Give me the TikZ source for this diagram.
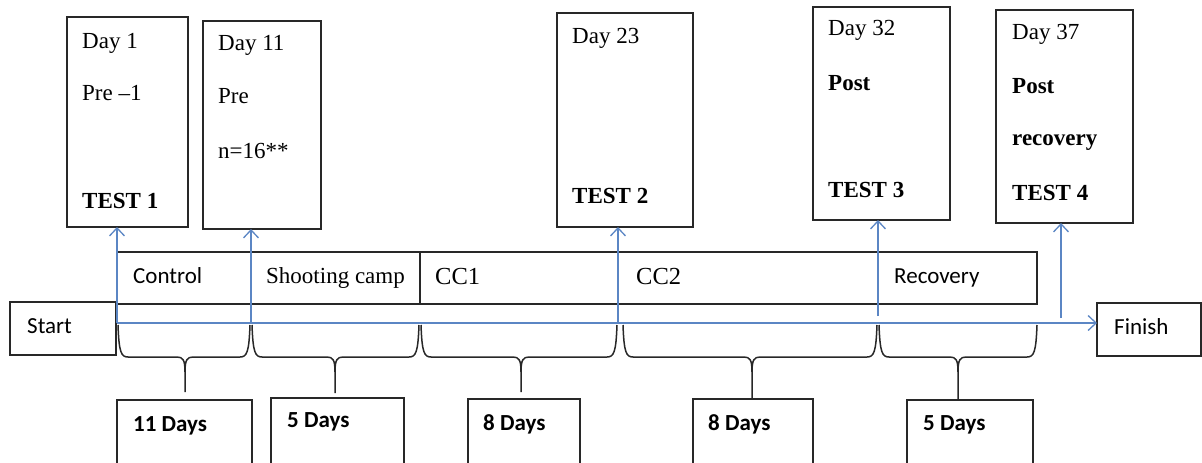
\documentclass[tikz,border=0pt]{standalone}
\usepackage{fontspec}
\setmainfont{Liberation Serif}
\newfontfamily\calib{Carlito}
\usetikzlibrary{arrows.meta}
\definecolor{lineblue}{RGB}{91,134,196}
\definecolor{boxgray}{RGB}{40,40,40}
\newcommand\brc[4]{%
  \draw[brc] (#1,325) .. controls (#1+1,352) and (#1+3,357) .. (#1+10,357) -- (#3-8,357)
    .. controls (#3-2,357) and (#3,360) .. (#3,372) -- (#3,#4);
  \draw[brc] (#2,325) .. controls (#2-1,352) and (#2-3,357) .. (#2-10,357) -- (#3+8,357)
    .. controls (#3+2,357) and (#3,360) .. (#3,372);}
\begin{document}
\begin{tikzpicture}[x=1pt,y=-1pt,
  bx/.style={draw=boxgray,line width=1.6pt,inner sep=0pt,outer sep=0pt,anchor=north west},
  tx/.style={anchor=base west,inner sep=0pt,font=\fontsize{23}{27}\selectfont},
  tb/.style={tx,font=\fontsize{23}{27}\selectfont\bfseries},
  ph/.style={anchor=base west,inner sep=0pt,font=\fontsize{24.5}{29}\selectfont},
  sf/.style={anchor=base west,inner sep=0pt,font=\calib\fontsize{23}{27}\selectfont},
  sfb/.style={anchor=base west,inner sep=0pt,font=\calib\fontsize{23}{27}\selectfont\bfseries},
  arr/.style={draw=lineblue,line width=1.5pt,-{Straight Barb[length=8pt,width=15pt,line width=1.3pt]}},
  brc/.style={draw=boxgray,line width=1.5pt}]
\useasboundingbox (0,0) rectangle (1202,463);
\clip (0,0) rectangle (1202,463);
% top boxes
\node[bx,minimum width=121pt,minimum height=210pt] (b1) at (67,17) {};
\node[bx,minimum width=118pt,minimum height=208pt] (b2) at (203,21) {};
\node[bx,minimum width=136pt,minimum height=214pt] (b3) at (557,13) {};
\node[bx,minimum width=137pt,minimum height=213pt] (b4) at (813,7) {};
\node[bx,minimum width=137pt,minimum height=213pt] (b5) at (996,10) {};
\node[tx] (t11) at (82,48) {Day 1};
\node[tx] (t12) at (82,100) {Pre \textendash1};
\node[tb] (t13) at (82,208) {TEST 1};
\node[tx] (t21) at (218,50) {Day 11};
\node[tx] (t22) at (218,103) {Pre};
\node[tx] (t23) at (218,158) {n=16**};
\node[tx] (t31) at (572,43) {Day 23};
\node[tb] (t32) at (572,203) {TEST 2};
\node[tx] (t41) at (828,35) {Day 32};
\node[tb] (t42) at (828,90) {Post};
\node[tb] (t43) at (828,197) {TEST 3};
\node[tx] (t51) at (1012,39) {Day 37};
\node[tb] (t52) at (1012,93) {Post};
\node[tb] (t53) at (1012,145) {recovery};
\node[tb] (t54) at (1012,200) {TEST 4};
% phase boxes
\node[bx,minimum width=134pt,minimum height=52pt] (p1) at (117,252) {};
\node[bx,minimum width=169pt,minimum height=52pt] (p2) at (251,252) {};
\node[bx,minimum width=198pt,minimum height=52pt] (p3) at (420,252) {};
\node[bx,minimum width=260pt,minimum height=52pt] (p4) at (618,252) {};
\node[bx,minimum width=159pt,minimum height=52pt] (p5) at (878,252) {};
\node[sf] (l1) at (133,283) {Control};
\node[ph,font=\fontsize{23}{27}\selectfont] (l2) at (266,283) {Shooting camp};
\node[ph] (l3) at (435,284) {CC1};
\node[ph] (l4) at (636,284) {CC2};
\node[sf] (l5) at (894,283) {Recovery};
% start / finish
\node[bx,minimum width=106pt,minimum height=53pt] (start) at (10,302) {};
\node[bx,minimum width=104pt,minimum height=53pt] (fin) at (1097,303) {};
\node[sf] (ls) at (27,333) {Start};
\node[sf] (lf) at (1114,334) {Finish};
% timeline and arrows
\coordinate (tl0) at (117,323);
\coordinate (tl1) at (251,323);
\coordinate (tl2) at (618,323);
\coordinate (tl3) at (878,316);
\coordinate (tl4) at (1061,318);
\draw[arr] (tl0) -- (tl0 -| fin.west);
\draw[arr] (tl0) -- (tl0 |- b1.south);
\draw[arr] (tl1) -- (tl1 |- b2.south);
\draw[arr] (tl2) -- (tl2 |- b3.south);
\draw[arr] (tl3) -- (tl3 |- b4.south);
\draw[arr] (tl4) -- (tl4 |- b5.south);
% braces
\brc{118}{250}{185}{392}
\brc{252}{419}{335}{393}
\brc{421}{617}{521}{392}
\brc{623}{877}{752}{399}
\brc{879}{1037}{958}{400}
% bottom boxes
\node[bx,minimum width=135pt,minimum height=90pt] (d1) at (117,400) {};
\node[bx,minimum width=133pt,minimum height=90pt] (d2) at (271,398) {};
\node[bx,minimum width=112pt,minimum height=90pt] (d3) at (468,399) {};
\node[bx,minimum width=120pt,minimum height=90pt] (d4) at (693,399) {};
\node[bx,minimum width=126pt,minimum height=90pt] (d5) at (907,400) {};
\node[sfb] (n1) at (133,431) {11 Days};
\node[sfb] (n2) at (287,427) {5 Days};
\node[sfb] (n3) at (483,430) {8 Days};
\node[sfb] (n4) at (708,430) {8 Days};
\node[sfb] (n5) at (923,430) {5 Days};
\end{tikzpicture}
\end{document}
